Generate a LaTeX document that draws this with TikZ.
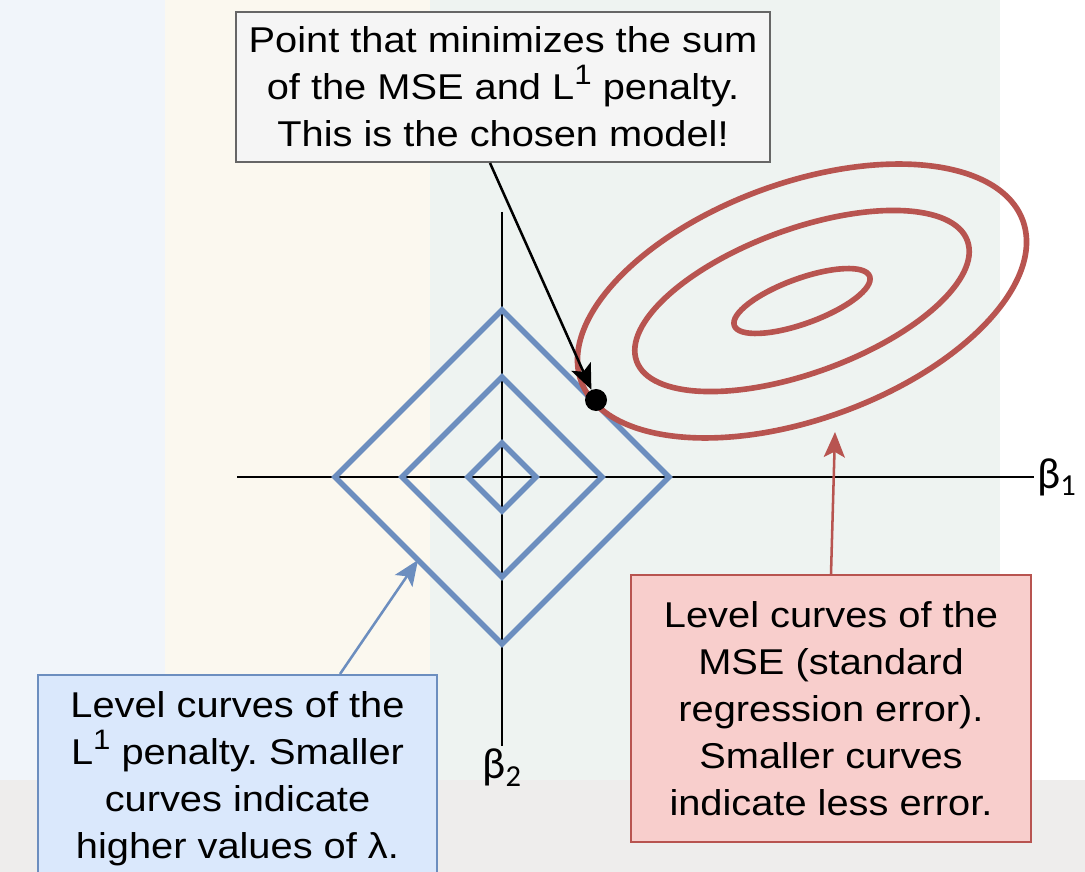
\documentclass[tikz,border=0pt]{standalone}
\usepackage{fontspec}
\setmainfont{Liberation Sans}[FakeStretch=1.11]
\newfontfamily\betafont{Carlito}
\usepackage{xcolor}
\usetikzlibrary{arrows.meta}
\frenchspacing

\definecolor{lonedraw}{HTML}{6C8EBF}
\definecolor{lonefill}{HTML}{DAE8FC}
\definecolor{msedraw}{HTML}{B85450}
\definecolor{msefill}{HTML}{F8CECC}
\definecolor{notedraw}{HTML}{666666}
\definecolor{notefill}{HTML}{F5F5F5}
\definecolor{bgleft}{HTML}{F1F5FA}
\definecolor{bgcream}{HTML}{FBF8EF}
\definecolor{bgmint}{HTML}{EEF3F1}
\definecolor{bgfloor}{HTML}{EEEDEC}

\newcommand{\lone}{L\raisebox{0.42em}{\fontsize{20}{20}\selectfont 1}}

\begin{document}
\begin{tikzpicture}[
    x=0.025cm, y=-0.025cm,
    box/.style={rectangle, line width=1.4pt, align=center, inner sep=0pt, font=\fontsize{25.5}{33.5}\selectfont},
    note/.style={box, draw=notedraw, fill=notefill},
    lonebox/.style={box, draw=lonedraw, fill=lonefill},
    msebox/.style={box, draw=msedraw, fill=msefill},
    axis/.style={line width=1.8pt},
    axislbl/.style={font=\betafont\fontsize{31}{36}\selectfont, inner sep=2pt},
    lonecurve/.style={draw=lonedraw, line width=4pt, line join=miter},
    msecurve/.style={draw=msedraw, line width=4pt},
    pointer/.style={-{Stealth[length=18pt, width=15pt, inset=4pt]}, line width=1.8pt},
    lonearrow/.style={pointer, draw=lonedraw, fill=lonedraw},
    msearrow/.style={pointer, draw=msedraw, fill=msedraw}
]
\useasboundingbox (0,0) rectangle (1085,872);

% faded backdrop
\fill[white] (0,0) rectangle (1085,872);
\fill[bgleft] (0,0) rectangle (165,780);
\fill[bgcream] (165,0) rectangle (430,780);
\fill[bgmint] (430,0) rectangle (1000,780);
\fill[bgfloor] (0,780) rectangle (1085,872);

% axes
\coordinate (xstart) at (237,477);
\coordinate (ystart) at (502,212);
\node[axislbl, anchor=west] (b1) at (1034,477) {β\textsubscript{1}};
\node[axislbl, anchor=north] (b2) at (502,746) {β\textsubscript{2}};
\draw[axis] (xstart) -- (b1.west);
\draw[axis] (ystart) -- (b2.north);

% L1 level curves
\foreach \r in {167,100,34}
    \draw[lonecurve, shift={(502,477)}] (0,-\r) -- (\r,0) -- (0,\r) -- (-\r,0) -- cycle;

% MSE level curves
\foreach \a/\b in {235/118, 176/72, 72/22.5}
    \draw[msecurve, rotate around={20:(802,301)}] (802,301) ellipse [x radius=\a, y radius=\b];

\node[circle, fill=black, minimum size=0.55cm, inner sep=0pt] (dot) at (596,400) {};
\coordinate (lonemark) at (418,560);
\coordinate (msemark) at (835,432);

% labels
\node[note, minimum width=13.35cm, minimum height=3.75cm] (choice) at (503,87)
    {Point that minimizes the sum\\ of the MSE and \lone{} penalty.\\ This is the chosen model!};
\node[lonebox, minimum width=9.975cm, minimum height=5.2cm] (lonenote) at (237.5,779)
    {Level curves of the\\ \lone{} penalty. Smaller\\ curves indicate\\ higher values of λ.};
\node[msebox, minimum width=10cm, minimum height=6.675cm] (msenote) at (831,708.5)
    {Level curves of the\\ MSE (standard\\ regression error).\\ Smaller curves\\ indicate less error.};

\draw[pointer] ([xshift=-0.325cm]choice.south) -- (dot);
\draw[lonearrow] ([xshift=2.5625cm]lonenote.north) -- (lonemark);
\draw[msearrow] (msenote.north) -- (msemark);
\end{tikzpicture}
\end{document}
